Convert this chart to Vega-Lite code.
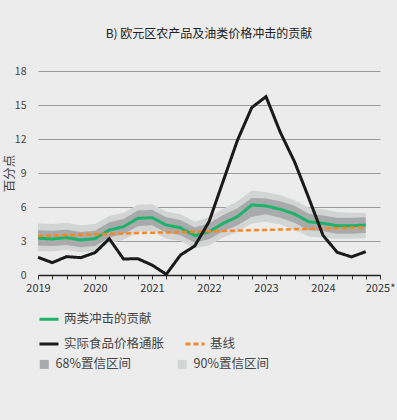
{
  "$schema": "https://vega.github.io/schema/vega-lite/v6.json",
  "width": 342,
  "height": 204,
  "autosize": "none",
  "padding": {"left": 38, "top": 71, "right": 17, "bottom": 145},
  "background": "#EBECEB",
  "title": {
    "text": "B) 欧元区农产品及油类价格冲击的贡献",
    "anchor": "middle",
    "fontSize": 12,
    "fontWeight": "normal",
    "color": "#222222",
    "font": "Liberation Sans Narrow, Noto Sans CJK SC, sans-serif",
    "offset": 25
  },
  "config": {
    "view": {"stroke": null},
    "font": "Liberation Sans Narrow, Noto Sans CJK SC, sans-serif"
  },
  "data": {
    "values": [
      {"t": 2019.00, "g": 3.24, "b": 1.56, "base": 3.44, "lo68": 2.60, "hi68": 3.95, "lo90": 2.10, "hi90": 4.55},
      {"t": 2019.25, "g": 3.18, "b": 1.09, "base": 3.48, "lo68": 2.55, "hi68": 3.90, "lo90": 2.10, "hi90": 4.50},
      {"t": 2019.50, "g": 3.30, "b": 1.62, "base": 3.52, "lo68": 2.65, "hi68": 4.00, "lo90": 2.20, "hi90": 4.60},
      {"t": 2019.75, "g": 3.09, "b": 1.53, "base": 3.55, "lo68": 2.45, "hi68": 3.80, "lo90": 2.00, "hi90": 4.40},
      {"t": 2020.00, "g": 3.20, "b": 1.97, "base": 3.59, "lo68": 2.55, "hi68": 3.90, "lo90": 2.10, "hi90": 4.50},
      {"t": 2020.25, "g": 3.97, "b": 3.20, "base": 3.62, "lo68": 3.30, "hi68": 4.65, "lo90": 2.80, "hi90": 5.20},
      {"t": 2020.50, "g": 4.26, "b": 1.41, "base": 3.66, "lo68": 3.60, "hi68": 4.95, "lo90": 3.10, "hi90": 5.50},
      {"t": 2020.75, "g": 5.00, "b": 1.44, "base": 3.70, "lo68": 4.30, "hi68": 5.70, "lo90": 3.80, "hi90": 6.20},
      {"t": 2021.00, "g": 5.06, "b": 0.88, "base": 3.73, "lo68": 4.40, "hi68": 5.75, "lo90": 3.90, "hi90": 6.25},
      {"t": 2021.25, "g": 4.41, "b": 0.06, "base": 3.76, "lo68": 3.75, "hi68": 5.10, "lo90": 3.20, "hi90": 5.60},
      {"t": 2021.50, "g": 4.17, "b": 1.76, "base": 3.79, "lo68": 3.50, "hi68": 4.85, "lo90": 3.00, "hi90": 5.35},
      {"t": 2021.75, "g": 3.47, "b": 2.56, "base": 3.82, "lo68": 2.85, "hi68": 4.20, "lo90": 2.35, "hi90": 4.70},
      {"t": 2022.00, "g": 3.82, "b": 4.70, "base": 3.86, "lo68": 3.15, "hi68": 4.55, "lo90": 2.60, "hi90": 5.10},
      {"t": 2022.25, "g": 4.56, "b": 8.30, "base": 3.89, "lo68": 3.85, "hi68": 5.30, "lo90": 3.30, "hi90": 5.85},
      {"t": 2022.50, "g": 5.15, "b": 11.90, "base": 3.92, "lo68": 4.40, "hi68": 5.90, "lo90": 3.80, "hi90": 6.50},
      {"t": 2022.75, "g": 6.18, "b": 14.77, "base": 3.95, "lo68": 5.15, "hi68": 6.80, "lo90": 4.55, "hi90": 7.45},
      {"t": 2023.00, "g": 6.09, "b": 15.74, "base": 3.98, "lo68": 5.35, "hi68": 6.75, "lo90": 4.70, "hi90": 7.30},
      {"t": 2023.25, "g": 5.80, "b": 12.60, "base": 4.01, "lo68": 5.05, "hi68": 6.50, "lo90": 4.45, "hi90": 7.05},
      {"t": 2023.50, "g": 5.38, "b": 10.00, "base": 4.04, "lo68": 4.60, "hi68": 6.10, "lo90": 4.00, "hi90": 6.60},
      {"t": 2023.75, "g": 4.70, "b": 6.80, "base": 4.07, "lo68": 3.95, "hi68": 5.40, "lo90": 3.40, "hi90": 5.95},
      {"t": 2024.00, "g": 4.56, "b": 3.50, "base": 4.10, "lo68": 3.85, "hi68": 5.25, "lo90": 3.30, "hi90": 5.80},
      {"t": 2024.25, "g": 4.35, "b": 2.00, "base": 4.13, "lo68": 3.65, "hi68": 5.05, "lo90": 3.20, "hi90": 5.55},
      {"t": 2024.50, "g": 4.35, "b": 1.60, "base": 4.17, "lo68": 3.65, "hi68": 5.05, "lo90": 3.20, "hi90": 5.50},
      {"t": 2024.75, "g": 4.41, "b": 2.06, "base": 4.21, "lo68": 3.70, "hi68": 5.10, "lo90": 3.25, "hi90": 5.50}
    ]
  },
  "encoding": {
    "x": {
      "field": "t",
      "type": "quantitative",
      "scale": {"domain": [2019, 2025], "nice": false, "zero": false},
      "axis": {
        "title": null,
        "values": [2019, 2019.25, 2019.5, 2019.75, 2020, 2020.25, 2020.5, 2020.75, 2021, 2021.25, 2021.5, 2021.75, 2022, 2022.25, 2022.5, 2022.75, 2023, 2023.25, 2023.5, 2023.75, 2024, 2024.25, 2024.5, 2024.75, 2025],
        "labelExpr": "datum.value % 1 != 0 ? '' : (datum.value == 2025 ? '2025*' : format(datum.value, 'd'))",
        "grid": false,
        "domainColor": "#222222",
        "domainWidth": 1.5,
        "tickColor": "#333333",
        "tickSize": 4,
        "labelPadding": 3,
        "labelFontSize": 11,
        "labelColor": "#333333",
        "labelFlush": false,
        "labelOverlap": false
      }
    },
    "y": {
      "field": "g",
      "type": "quantitative",
      "scale": {"domain": [0, 18], "nice": false},
      "axis": {
        "title": "百分点",
        "titleFontSize": 12.5,
        "titleFontWeight": "normal",
        "titleColor": "#444444",
        "titleX": -22,
        "titleY": 102,
        "titleAlign": "center",
        "titleBaseline": "bottom",
        "titleAngle": -90,
        "values": [0, 3, 6, 9, 12, 15, 18],
        "labelOverlap": false,
        "domain": false,
        "ticks": false,
        "labelPadding": 12,
        "labelFontSize": 10.5,
        "labelColor": "#444444",
        "gridColor": "#9A9A9A",
        "gridWidth": 1
      }
    }
  },
  "layer": [
    {
      "mark": {"type": "area", "opacity": 1},
      "encoding": {
        "y": {"field": "lo90", "type": "quantitative"},
        "y2": {"field": "hi90"},
        "fill": {
          "datum": "90%置信区间",
          "type": "nominal",
          "scale": {"domain": ["68%置信区间", "90%置信区间"], "range": ["#A9AAAB", "#D3D4D4"]},
          "legend": {
            "title": null,
            "orient": "none",
            "legendX": 0,
            "legendY": 287,
            "direction": "horizontal",
            "columns": 2,
            "columnPadding": 45,
            "symbolType": "square",
            "symbolSize": 81,
            "symbolStrokeWidth": 0,
            "symbolOpacity": 1,
            "labelFontSize": 12.5,
            "labelColor": "#444444",
            "labelOffset": 5
          }
        }
      }
    },
    {
      "mark": {"type": "area", "opacity": 1},
      "encoding": {
        "y": {"field": "lo68", "type": "quantitative"},
        "y2": {"field": "hi68"},
        "fill": {"datum": "68%置信区间", "type": "nominal"}
      }
    },
    {
      "mark": {"type": "line", "strokeWidth": 3},
      "encoding": {
        "y": {"field": "g", "type": "quantitative"},
        "stroke": {
          "datum": "两类冲击的贡献",
          "type": "nominal",
          "scale": {"domain": ["两类冲击的贡献", " ", "实际食品价格通胀", "基线"], "range": ["#1DB36B", "transparent", "#1A1A1A", "#F0892A"]},
          "legend": {
            "title": null,
            "orient": "none",
            "legendX": 0,
            "legendY": 237,
            "direction": "horizontal",
            "columns": 2,
            "columnPadding": 14,
            "rowPadding": 7,
            "symbolType": "stroke",
            "symbolSize": 361,
            "symbolStrokeWidth": 3,
            "labelFontSize": 12.5,
            "labelColor": "#444444",
            "labelOffset": 4
          }
        },
        "strokeDash": {
          "datum": "两类冲击的贡献",
          "type": "nominal",
          "scale": {"domain": ["两类冲击的贡献", " ", "实际食品价格通胀", "基线"], "range": [[1, 0], [1, 0], [1, 0], [5, 3]]},
          "legend": {"title": null}
        }
      }
    },
    {
      "mark": {"type": "line", "strokeWidth": 2.5},
      "encoding": {
        "y": {"field": "base", "type": "quantitative"},
        "stroke": {"datum": "基线", "type": "nominal"},
        "strokeDash": {"datum": "基线", "type": "nominal"}
      }
    },
    {
      "mark": {"type": "line", "strokeWidth": 3},
      "encoding": {
        "y": {"field": "b", "type": "quantitative"},
        "stroke": {"datum": "实际食品价格通胀", "type": "nominal"},
        "strokeDash": {"datum": "实际食品价格通胀", "type": "nominal"}
      }
    }
  ]
}
